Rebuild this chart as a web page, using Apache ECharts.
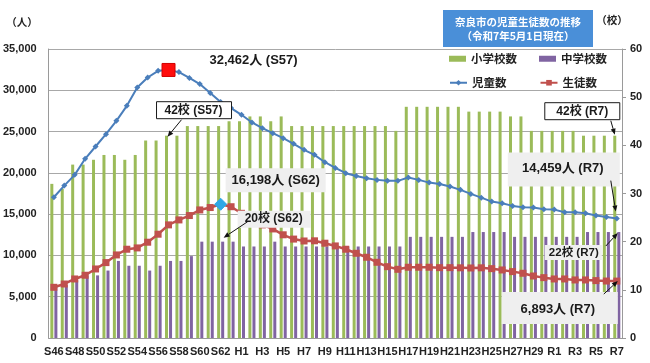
<!DOCTYPE html>
<html><head><meta charset="utf-8">
<script src="https://cdn.jsdelivr.net/npm/echarts@6/dist/echarts.min.js"></script>
<style>html,body{margin:0;padding:0;background:#fff}#c{width:650px;height:363px}</style>
</head><body><div id="c"></div>
<script>
// ---- data ----
const years = ['S46','S47','S48','S49','S50','S51','S52','S53','S54','S55','S56','S57','S58','S59','S60','S61','S62','S63',
  'H1','H2','H3','H4','H5','H6','H7','H8','H9','H10','H11','H12','H13','H14','H15','H16','H17','H18','H19','H20',
  'H21','H22','H23','H24','H25','H26','H27','H28','H29','H30','R1','R2','R3','R4','R5','R6','R7'];
const elementarySchools = [32,31,36,36,37,38,38,37,38,41,41,42,42,44,44,44,44,45,45,46,46,45,46,44,44,44,44,44,44,44,44,44,44,43,
  48,48,48,48,48,48,47,47,47,47,46,46,43,43,43,43,43,42,42,42,42];
const juniorSchools = [11,11,12,13,13,14,16,15,15,14,15,16,16,17,20,20,20,20,19,19,19,20,19,19,19,19,19,19,19,19,19,19,19,19,
  21,21,21,21,21,21,22,22,22,22,21,21,21,21,21,21,21,22,22,22,22];
const pupils = [17050,18460,19760,21700,23190,24690,26300,28120,30340,31550,32360,32462,32200,31500,30750,29660,28570,27840,
  27030,26100,25410,24810,24200,23510,22790,22180,21290,20600,19960,19630,19350,19150,19030,19030,19430,19150,18820,18660,
  18340,17940,17450,17000,16520,16320,16000,15840,15800,15600,15550,15230,15230,15110,14830,14650,14459];
const students = [6140,6540,7150,7600,8360,9130,10060,10750,10910,11600,12570,13700,14300,14830,15510,15800,16198,15900,
  15100,14400,13700,13210,12500,11980,11750,11770,11480,11150,10750,10260,9780,9170,8640,8320,8570,8570,8570,8520,8520,8500,
  8480,8500,8400,8240,8040,7840,7510,7310,7150,7150,7030,7030,6950,6900,6893];
const leftAxis = {min: 0, max: 35000, interval: 5000};
const rightAxis = {min: 0, max: 60, interval: 10};
const seriesNames = ['小学校数','中学校数','児童数','生徒数'];
const titleLines = ['奈良市の児童生徒数の推移','（令和7年5月1日現在）'];
const peakPupilIdx = 11, peakStudentIdx = 16, lastIdx = 54;

// ---- chart ----
const FONT = '"Liberation Sans","Noto Sans CJK JP",sans-serif';
const CJK = '"Noto Sans CJK JP","Liberation Sans",sans-serif';
const chart = echarts.init(document.getElementById('c'), null, {renderer: 'canvas'});
const fmt = v => String(v).replace(/\B(?=(\d{3})+(?!\d))/g, ',');

const pupilData = pupils.map((v, i) => i === peakPupilIdx
  ? {value: v, symbol: 'rect', symbolSize: 13, itemStyle: {color: '#ff0d0d', borderColor: '#d00000', borderWidth: 1}} : v);
const studentData = students.map((v, i) => i === peakStudentIdx
  ? {value: v, symbol: 'diamond', symbolSize: 12, itemStyle: {color: '#2fa8e6', borderColor: '#2fa8e6'}} : v);

chart.setOption({
  animation: false,
  backgroundColor: '#fff',
  grid: {left: 48, right: 28, top: 49, bottom: 25, containLabel: false},
  legend: [
    {data: [seriesNames[0], seriesNames[1]], left: 444, top: 48, itemWidth: 17, itemHeight: 6, itemGap: 22,
      textStyle: {fontFamily: CJK, fontSize: 11.5, fontWeight: 'bold', color: '#222'}, icon: 'rect'},
    {data: [seriesNames[2], seriesNames[3]], left: 444, top: 72, itemWidth: 17, itemHeight: 7, itemGap: 33,
      textStyle: {fontFamily: CJK, fontSize: 11.5, fontWeight: 'bold', color: '#222'}}
  ],
  xAxis: {
    type: 'category', data: years, boundaryGap: true,
    axisLine: {lineStyle: {color: '#9a9a9a'}},
    axisTick: {interval: 0, length: 4, lineStyle: {color: '#9a9a9a'}},
    axisLabel: {interval: 1, margin: 8, fontFamily: FONT, fontSize: 11, fontWeight: 'bold', color: '#222'}
  },
  yAxis: [
    {type: 'value', min: leftAxis.min, max: leftAxis.max, interval: leftAxis.interval,
      axisLine: {show: true, lineStyle: {color: '#9a9a9a'}}, axisTick: {show: false},
      splitLine: {lineStyle: {color: '#a8a8a8'}},
      axisLabel: {formatter: fmt, margin: 12, fontFamily: FONT, fontSize: 11, fontWeight: 'bold', color: '#222'}},
    {type: 'value', min: rightAxis.min, max: rightAxis.max, interval: rightAxis.interval,
      axisLine: {show: true, lineStyle: {color: '#9a9a9a'}}, axisTick: {show: true, length: 4, lineStyle: {color: '#9a9a9a'}},
      splitLine: {show: false},
      axisLabel: {margin: 8, fontFamily: FONT, fontSize: 11, fontWeight: 'bold', color: '#222'}}
  ],
  series: [
    {name: seriesNames[0], type: 'bar', yAxisIndex: 1, data: elementarySchools, barWidth: 3, barGap: '35%',
      itemStyle: {color: '#9bbb59'}, z: 2},
    {name: seriesNames[1], type: 'bar', yAxisIndex: 1, data: juniorSchools, barWidth: 3, barGap: '35%',
      itemStyle: {color: '#8064a2'}, z: 2},
    {name: seriesNames[2], type: 'line', yAxisIndex: 0, data: pupilData, symbol: 'diamond', symbolSize: 6, showAllSymbol: true,
      lineStyle: {color: '#4a7ebb', width: 2}, itemStyle: {color: '#4a7ebb'}, z: 4},
    {name: seriesNames[3], type: 'line', yAxisIndex: 0, data: studentData, symbol: 'rect', symbolSize: 7, showAllSymbol: true,
      lineStyle: {color: '#c0504d', width: 2.5}, itemStyle: {color: '#c0504d'}, z: 3}
  ]
});

// ---- annotations anchored to data ----
function px(seriesAxis, idx, val, dxBar) {
  const p = chart.convertToPixel({xAxisIndex: 0, yAxisIndex: seriesAxis}, [idx, val]);
  return [p[0] + (dxBar || 0), p[1]];
}
const anchors = {
  pupilPeak: px(0, peakPupilIdx, pupils[peakPupilIdx]),
  elemPeak: px(1, peakPupilIdx, elementarySchools[peakPupilIdx], -2),
  studentPeak: px(0, peakStudentIdx, students[peakStudentIdx]),
  juniorPeak: px(1, peakStudentIdx, juniorSchools[peakStudentIdx], 2),
  elemLast: px(1, lastIdx, elementarySchools[lastIdx], -2),
  pupilLast: px(0, lastIdx, pupils[lastIdx]),
  juniorLast: px(1, lastIdx, juniorSchools[lastIdx], 2),
  studentLast: px(0, lastIdx, students[lastIdx])
};
const notes = [
  {a: 'pupilPeak', text: fmt(pupils[peakPupilIdx]) + '人 (' + years[peakPupilIdx] + ')', box: null, tc: [85, -10], size: 13},
  {a: 'elemPeak', text: elementarySchools[peakPupilIdx] + '校 (' + years[peakPupilIdx] + ')', box: [-10, -34, 75, 17], border: true, tc: [27, -25.5], arrow: [[15, -16], [1, 1]], size: 12},
  {a: 'studentPeak', text: fmt(students[peakStudentIdx]) + '人 (' + years[peakStudentIdx] + ')', box: [5, -36, 100, 24], tc: [55, -24], size: 13},
  {a: 'juniorPeak', text: juniorSchools[peakStudentIdx] + '校 (' + years[peakStudentIdx] + ')', box: [15, -31, 73, 17], tc: [51, -22.5], arrow: [[25, -20], [1, -4]], size: 12},
  {a: 'elemLast', text: elementarySchools[lastIdx] + '校 (' + years[lastIdx] + ')', box: [-70, -33, 75, 17], border: true, tc: [-32.5, -24.5], arrow: [[-4, -15], [0, -1]], size: 12},
  {a: 'pupilLast', text: fmt(pupils[lastIdx]) + '人 (' + years[lastIdx] + ')', box: [-109, -66, 112, 34], tc: [-54, -50], arrow: [[-6, -38], [-1, -7]], size: 13},
  {a: 'juniorLast', text: juniorSchools[lastIdx] + '校 (' + years[lastIdx] + ')', box: [-74, 13, 57, 15], tc: [-45, 20.5], arrow: [[-13, 14], [-1, 1]], size: 11.5},
  {a: 'studentLast', text: fmt(students[lastIdx]) + '人 (' + years[lastIdx] + ')', box: [-115, 11, 116, 32], tc: [-59, 28], arrow: [[-13, 13], [1, 0]], size: 13}
];
const g = [];
notes.forEach(n => {
  const [x0, y0] = anchors[n.a];
  if (n.box) {
    g.push({type: 'rect', z: 100, shape: {x: x0 + n.box[0], y: y0 + n.box[1], width: n.box[2], height: n.box[3]},
      style: n.border ? {fill: '#ffffff', stroke: '#1a1a1a', lineWidth: 1} : {fill: '#efefef'}});
  }
  g.push({type: 'text', z: 101, style: {text: n.text, x: x0 + n.tc[0], y: y0 + n.tc[1], align: 'center', verticalAlign: 'middle',
    fontFamily: FONT, fontWeight: 'bold', fontSize: n.size, fill: '#1a1a1a'}});
  if (n.arrow) {
    const sx = x0 + n.arrow[0][0], sy = y0 + n.arrow[0][1], ex = x0 + n.arrow[1][0], ey = y0 + n.arrow[1][1];
    const ang = Math.atan2(ey - sy, ex - sx), L = 6, W = 2.5;
    const bx = ex - L * Math.cos(ang), by = ey - L * Math.sin(ang);
    g.push({type: 'line', z: 101, shape: {x1: sx, y1: sy, x2: bx, y2: by}, style: {stroke: '#111', lineWidth: 1}});
    g.push({type: 'polygon', z: 101, shape: {points: [[ex, ey], [bx - W * Math.sin(ang), by + W * Math.cos(ang)], [bx + W * Math.sin(ang), by - W * Math.cos(ang)]]},
      style: {fill: '#111'}});
  }
});
// title box & unit labels
g.push({type: 'rect', z: 100, shape: {x: 443, y: 10, width: 150, height: 37}, style: {fill: '#4a8fd8'}});
g.push({type: 'text', z: 101, style: {text: titleLines[0], x: 518, y: 22, align: 'center', verticalAlign: 'middle', fontFamily: CJK, fontSize: 10.5, fontWeight: 'bold', fill: '#fff'}});
g.push({type: 'text', z: 101, style: {text: titleLines[1], x: 518, y: 36, align: 'center', verticalAlign: 'middle', fontFamily: CJK, fontSize: 10.5, fontWeight: 'bold', fill: '#fff'}});
g.push({type: 'text', z: 101, style: {text: '（人）', x: 22, y: 22, align: 'center', verticalAlign: 'middle', fontFamily: CJK, fontSize: 10.5, fontWeight: 'bold', fill: '#222'}});
g.push({type: 'text', z: 101, style: {text: '（校）', x: 612, y: 20, align: 'center', verticalAlign: 'middle', fontFamily: CJK, fontSize: 10.5, fontWeight: 'bold', fill: '#222'}});
chart.setOption({graphic: g});
</script></body></html>
